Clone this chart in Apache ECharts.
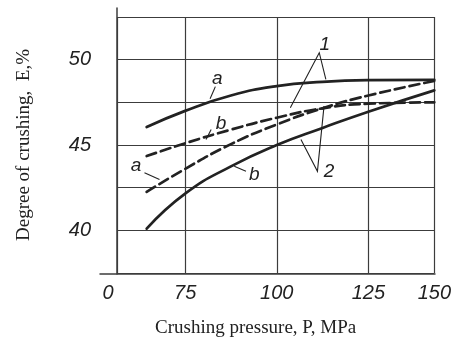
<!DOCTYPE html>
<html>
<head>
<meta charset="utf-8">
<script src="https://cdn.jsdelivr.net/npm/echarts@6/dist/echarts.min.js"></script>
<style>
  html, body { margin: 0; padding: 0; background: #fff; }
  #chart { width: 454px; height: 343px; }
</style>
</head>
<body>
<div id="chart"></div>
<script>
// pressure points the curves were read at (axis units; right border is labelled 150)
const pressure = [64.5, 75, 87.5, 100, 112.5, 125, 143]
const curve1a = [46.05, 47.0, 47.9, 48.45, 48.7, 48.8, 48.82]
const curve1b = [44.35, 45.1, 45.9, 46.6, 47.15, 47.42, 47.5]
const curve2a = [42.25, 43.6, 45.05, 46.2, 47.15, 47.9, 48.75]
const curve2b = [40.1, 42.15, 43.75, 45.0, 46.0, 46.95, 48.2]

const xTicks = [56.4, 75, 100, 125, 143]
const xTickLabels = ['0', '75', '100', '125', '150']
const yMin = 37.5
const yMax = 52.5
const yStep = 2.5

// curve annotations: text and leader lines, in data units
const notes = [
  { text: 'a', at: [83.8, 48.9], lines: [[[83.25, 48.42], [81.8, 47.71]]] },
  { text: 'b', at: [84.8, 46.26], lines: [[[82.1, 45.91], [80.7, 45.32]]] },
  { text: 'a', at: [61.6, 43.76], lines: [[[63.9, 43.37], [68.0, 42.98]]] },
  { text: 'b', at: [93.9, 43.27], lines: [[[91.6, 43.46], [88.4, 43.76]]] },
  { text: '1', at: [113.1, 50.9], lines: [[[103.7, 47.18], [111.6, 50.41], [113.4, 48.84]]] },
  { text: '2', at: [114.3, 43.46], lines: [[[106.6, 45.32], [111.1, 43.46], [112.9, 47.28]]] }
]

const ink = '#222'
const gridInk = '#3c3c3c'
const tickFont = 'Liberation Sans'
const titleFont = 'Liberation Serif'

function toPairs(ys) {
  return pressure.map((x, i) => [x, ys[i]])
}

function curve(name, ys, dashed) {
  return {
    name,
    type: 'line',
    xAxisIndex: 0,
    yAxisIndex: 0,
    data: toPairs(ys),
    smooth: 0.5,
    showSymbol: false,
    silent: true,
    lineStyle: {
      color: ink,
      width: 2.7,
      type: dashed ? [10, 5] : 'solid',
      cap: 'round'
    },
    z: 5
  }
}

const chart = echarts.init(document.getElementById('chart'), null, { renderer: 'canvas' })

chart.setOption({
  backgroundColor: '#fff',
  animation: false,
  grid: [
    { left: 117, right: 19, top: 17, bottom: 69 },
    // only used for the axis lines that run past the frame
    { left: 100, right: 19, top: 8, bottom: 69 }
  ],
  xAxis: [
    {
      type: 'value',
      gridIndex: 0,
      min: xTicks[0],
      max: xTicks[xTicks.length - 1],
      axisLine: { show: false },
      axisTick: { show: false, customValues: xTicks },
      splitLine: { show: true, lineStyle: { color: gridInk, width: 1.2 } },
      axisLabel: {
        customValues: xTicks,
        showMinLabel: true,
        showMaxLabel: true,
        margin: 10,
        color: ink,
        fontFamily: tickFont,
        fontStyle: 'italic',
        fontSize: 20,
        formatter: v => {
          const i = xTicks.indexOf(v)
          if (i < 0) return ''
          return i === 0 ? '{z|' + xTickLabels[i] + '}' : xTickLabels[i]
        },
        rich: {
          z: {
            color: ink,
            fontFamily: tickFont,
            fontStyle: 'italic',
            fontSize: 20,
            padding: [0, 18, 0, 0]
          }
        }
      },
      name: 'Crushing pressure, P, MPa',
      nameLocation: 'middle',
      nameGap: 46,
      nameTextStyle: {
        color: ink,
        fontFamily: titleFont,
        fontSize: 19,
        padding: [0, 40, 0, 0]
      }
    },
    {
      type: 'value',
      gridIndex: 1,
      min: 0,
      max: 1,
      axisLine: { show: true, lineStyle: { color: gridInk, width: 1.5 } },
      axisTick: { show: false },
      axisLabel: { show: false },
      splitLine: { show: false }
    }
  ],
  yAxis: [
    {
      type: 'value',
      gridIndex: 0,
      min: yMin,
      max: yMax,
      interval: yStep,
      axisLine: { show: false },
      axisTick: { show: false },
      splitLine: { show: true, lineStyle: { color: gridInk, width: 1.2 } },
      axisLabel: {
        margin: 26,
        color: ink,
        fontFamily: tickFont,
        fontStyle: 'italic',
        fontSize: 20,
        formatter: v => (v % 5 === 0 ? String(v) : '')
      },
      name: 'Degree of crushing,  E,%',
      nameLocation: 'middle',
      nameRotate: 90,
      nameGap: 83,
      nameTextStyle: {
        color: ink,
        fontFamily: titleFont,
        fontSize: 19
      }
    },
    {
      type: 'value',
      gridIndex: 1,
      min: 0,
      max: 1,
      offset: -17,
      axisLine: { show: true, lineStyle: { color: gridInk, width: 1.5 } },
      axisTick: { show: false },
      axisLabel: { show: false },
      splitLine: { show: false }
    }
  ],
  series: [
    curve('1a', curve1a, false),
    curve('1b', curve1b, true),
    curve('2a', curve2a, true),
    curve('2b', curve2b, false)
  ]
})

// annotations placed through the grid's own scales
const px = p => chart.convertToPixel({ gridIndex: 0 }, p)
const graphics = []
notes.forEach(n => {
  const c = px(n.at)
  graphics.push({
    type: 'text',
    x: c[0],
    y: c[1],
    z: 10,
    style: {
      text: n.text,
      fill: ink,
      font: 'italic 19px "Liberation Sans"',
      align: 'center',
      verticalAlign: 'middle'
    }
  })
  n.lines.forEach(pts => {
    graphics.push({
      type: 'polyline',
      z: 10,
      shape: { points: pts.map(px) },
      style: { stroke: ink, lineWidth: 1.1, fill: null }
    })
  })
})
chart.setOption({ graphic: graphics })
</script>
</body>
</html>
